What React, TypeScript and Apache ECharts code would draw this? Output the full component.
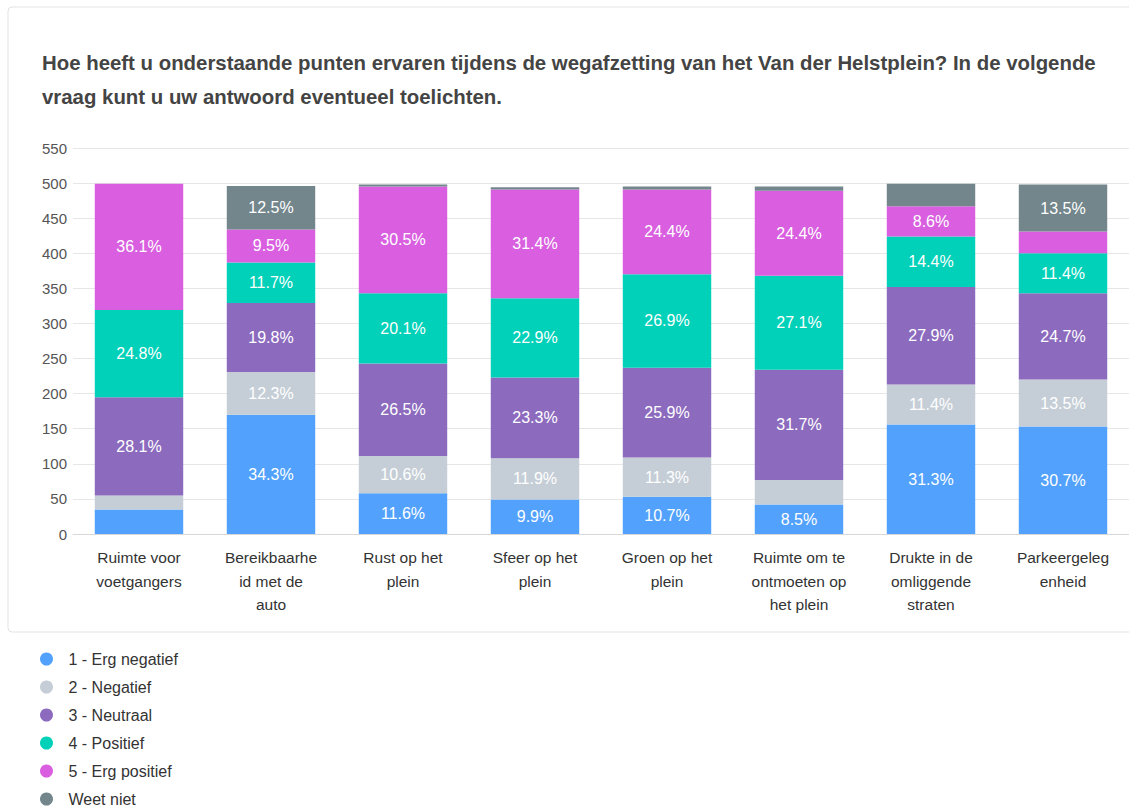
import React, { useEffect, useRef } from "react";
import * as echarts from "echarts";

const titleText =
  "Hoe heeft u onderstaande punten ervaren tijdens de wegafzetting van het Van der Helstplein? In de volgende\nvraag kunt u uw antwoord eventueel toelichten.";

const categories = [
  "Ruimte voor\nvoetgangers",
  "Bereikbaarhe\nid met de\nauto",
  "Rust op het\nplein",
  "Sfeer op het\nplein",
  "Groen op het\nplein",
  "Ruimte om te\nontmoeten op\nhet plein",
  "Drukte in de\nomliggende\nstraten",
  "Parkeergeleg\nenheid",
];

const seriesNames = [
  "1 - Erg negatief",
  "2 - Negatief",
  "3 - Neutraal",
  "4 - Positief",
  "5 - Erg positief",
  "Weet niet",
];

const ergNegatief = [35, 170, 58, 49, 53, 42, 156, 153];
const negatief = [20, 61, 53, 59, 56, 35, 57, 67];
const neutraal = [140, 98, 132, 115, 128, 157, 139, 123];
const positief = [124, 58, 100, 113, 133, 134, 72, 57];
const ergPositief = [180, 47, 152, 155, 121, 121, 43, 31];
const weetNiet = [0, 62, 3, 3, 4, 6, 32, 67];

const yTicks = [0, 50, 100, 150, 200, 250, 300, 350, 400, 450, 500, 550];

const colors = ["#52a2fd", "#c5ced6", "#8c6bbe", "#00d1b8", "#d95fe0", "#73868c"];

export default function App() {
  const ref = useRef<HTMLDivElement>(null);
  useEffect(() => {
    if (!ref.current) return;
    const chart = echarts.init(ref.current, null, { renderer: "svg" });
    const all = [ergNegatief, negatief, neutraal, positief, ergPositief, weetNiet];
    const totals = categories.map((_, i) => all.reduce((s, arr) => s + arr[i], 0));
    const font = "'Liberation Sans', Arial, sans-serif";
    chart.setOption({
      animation: false,
      color: colors,
      textStyle: { fontFamily: font },
      graphic: [
        {
          type: "rect",
          shape: { x: 8, y: 7, width: 1150, height: 625, r: 4 },
          style: { fill: "none", stroke: "#e3e3e3", lineWidth: 1 },
          silent: true,
        },
      ],
      title: {
        text: titleText,
        left: 37,
        top: 41,
        textStyle: {
          fontFamily: font,
          fontSize: 20.4,
          fontWeight: "bold",
          color: "#444444",
          lineHeight: 34,
        },
      },
      legend: {
        orient: "vertical",
        left: 35,
        top: 646,
        height: 170,
        icon: "circle",
        itemWidth: 34,
        itemHeight: 13,
        itemGap: 12,
        data: seriesNames,
        textStyle: { fontFamily: font, fontSize: 16, color: "#333333" },
      },
      grid: { left: 73, top: 148, width: 1066, height: 386, containLabel: false },
      xAxis: {
        type: "category",
        data: categories,
        axisTick: { show: false },
        axisLine: { lineStyle: { color: "#d8d8d8" } },
        axisLabel: {
          interval: 0,
          color: "#333333",
          fontSize: 15.5,
          lineHeight: 23.5,
          margin: 12,
          fontFamily: font,
        },
      },
      yAxis: {
        type: "value",
        min: yTicks[0],
        max: yTicks[yTicks.length - 1],
        interval: 50,
        axisLabel: { color: "#555555", fontSize: 15, margin: 6, fontFamily: font },
        splitLine: { lineStyle: { color: "#e6e6e6" } },
        axisLine: { show: false },
        axisTick: { show: false },
      },
      series: all.map((arr, si) => ({
        name: seriesNames[si],
        type: "bar",
        stack: "total",
        barWidth: "67%",
        data: arr,
        itemStyle: { color: colors[si] },
        label: {
          show: true,
          position: "inside",
          color: "#ffffff",
          fontSize: 16,
          fontFamily: font,
          formatter: (p: any) => {
            const pct = (p.value / totals[p.dataIndex]) * 100;
            if (pct < 8) return "";
            return pct.toFixed(1) + "%";
          },
        },
      })),
    });
    return () => chart.dispose();
  }, []);
  return (
    <div
      ref={ref}
      style={{ position: "absolute", left: 0, top: 0, width: 1129, height: 810, background: "#fff" }}
    />
  );
}
